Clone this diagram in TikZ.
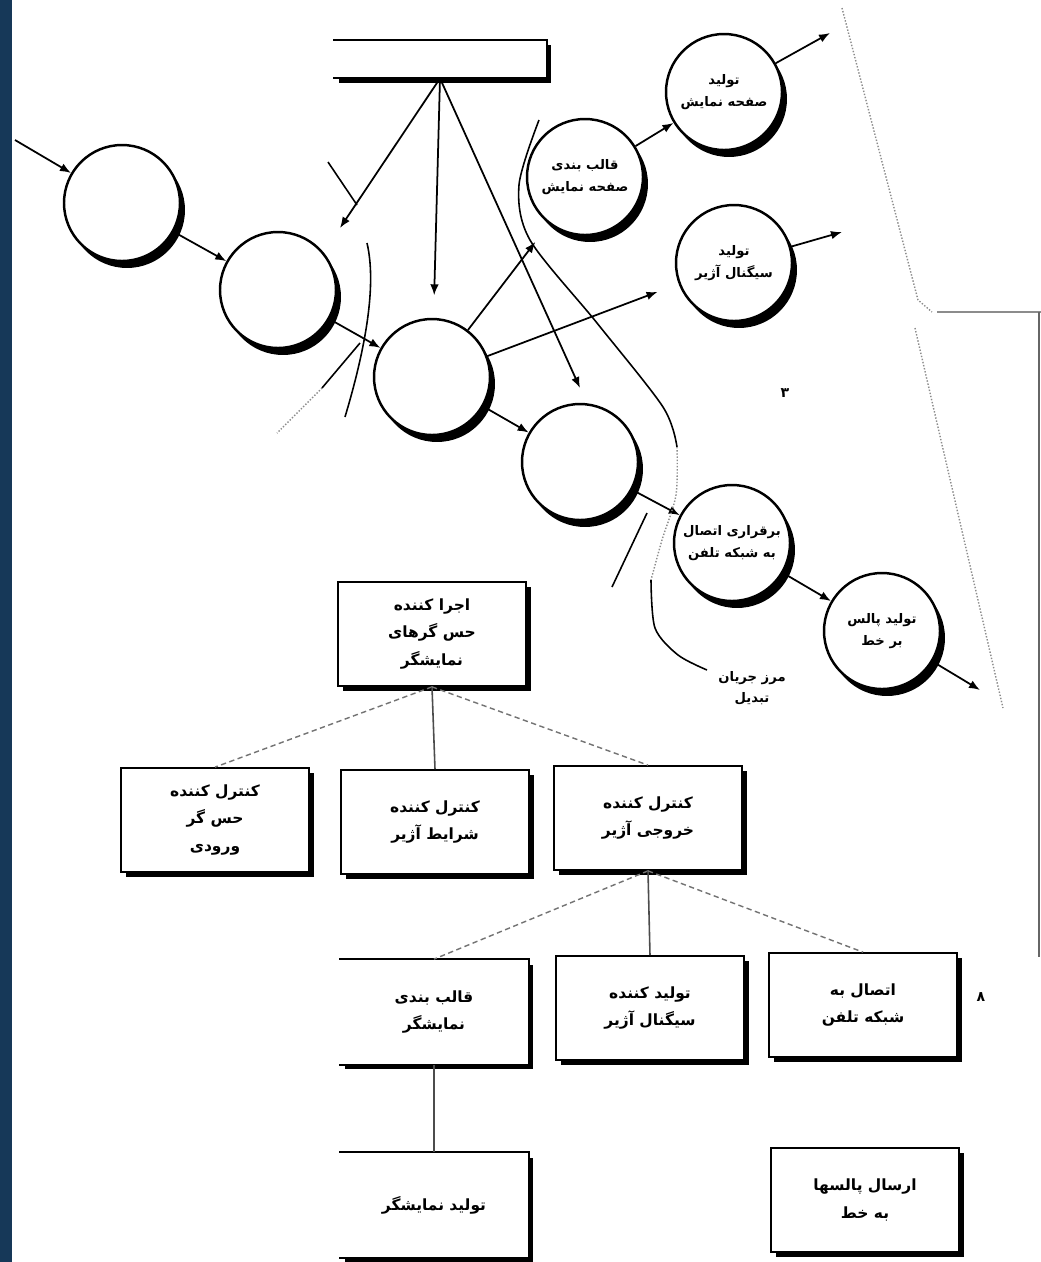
\documentclass[tikz,border=0pt]{standalone}
\usepackage{fontspec}
\usepackage{tikz}
\usetikzlibrary{arrows.meta,shadows}
\newfontfamily\farsi[Script=Arabic]{DejaVu Sans}
\TeXXeTstate=1
\definecolor{slide}{RGB}{22,56,88}
\newcommand{\fatext}[1]{\beginR #1\endR}
\tikzset{
  proc/.style={circle, draw, line width=1.4pt, fill=white, minimum size=2.32cm, inner sep=0pt,
    align=center, font=\farsi\bfseries\fontsize{7.5}{12.5}\selectfont,
    drop shadow={shadow xshift=0.1cm, shadow yshift=-0.14cm, fill=black, opacity=1}},
  module/.style={rectangle, draw, line width=1pt, fill=white, minimum width=3.76cm, minimum height=2.08cm,
    align=center, font=\farsi\bfseries\fontsize{8.8}{15.5}\selectfont,
    drop shadow={shadow xshift=0.1cm, shadow yshift=-0.1cm, fill=black, opacity=1}},
  openbox/.style={module, draw=none},
  storebox/.style={rectangle, fill=white, minimum width=4.26cm, minimum height=0.76cm,
    drop shadow={shadow xshift=0.1cm, shadow yshift=-0.1cm, fill=black, opacity=1}},
  note/.style={align=center, font=\farsi\bfseries\fontsize{7.5}{12}\selectfont},
  pgnum/.style={font=\farsi\bfseries\fontsize{8}{10}\selectfont, inner sep=0pt},
  flow/.style={->, line width=1pt},
  toward/.style={shorten >=0.45cm},
  bound/.style={line width=0.9pt},
  link/.style={line width=0.9pt, black!70},
  sidelink/.style={line width=0.8pt, black!55, densely dashed},
  pageline/.style={line width=0.8pt, black!45, densely dotted}
}

\begin{document}
\begin{tikzpicture}[x=0.02cm, y=-0.02cm, >={Latex[length=2.2mm,width=1.7mm]}]
\useasboundingbox (0,0) rectangle (1041,1262);
\fill[white] (0,0) rectangle (1041,1262);
\fill[slide] (0,0) rectangle (12,1262);

% data flow part
\node[storebox] (store) at (440,59) {};
\draw[line width=1pt] (store.north west) -- (store.north east) -- (store.south east) -- (store.south west);

\node[proc] (c1) at (122,203) {};
\node[proc] (c2) at (278,290) {};
\node[proc] (c3) at (432,377) {};
\node[proc] (c4) at (580,462) {};
\node[proc] (c5) at (585,177) {\fatext{قالب بندی}\\\fatext{صفحه نمایش}};
\node[proc] (c6) at (724,92) {\fatext{تولید}\\\fatext{صفحه نمایش}};
\node[proc] (c7) at (734,263) {\fatext{تولید}\\\fatext{سیگنال آژیر}};
\node[proc] (c8) at (732,543) {\fatext{برقراری اتصال}\\\fatext{به شبکه تلفن}};
\node[proc] (c9) at (882,631) {\fatext{تولید پالس}\\\fatext{بر خط}};

\coordinate (in1) at (15,140);
\coordinate (c2in) at (340,228);
\coordinate (c4in) at (580,388);
\coordinate (o6) at (830,33);
\coordinate (o7) at (842,232);
\coordinate (o9) at (980,690);

\draw[flow] (in1) -- (c1);
\draw[flow] (c1) -- (c2);
\draw[flow] (c2) -- (c3);
\draw[flow] (store.south) -- (c2in);
\draw[flow,toward] (store.south) -- (c3);
\draw[flow] (store.south) -- (c4in);
\draw[flow,toward] (c3) -- (c5);
\draw[flow,toward] (c3) -- (c7);
\draw[flow] (c3) -- (c4);
\draw[flow] (c4) -- (c8);
\draw[flow] (c5) -- (c6);
\draw[flow] (c6) -- (o6);
\draw[flow] (c7) -- (o7);
\draw[flow] (c8) -- (c9);
\draw[flow] (c9) -- (o9);

% boundaries
\draw[bound] (328,162) -- (357,205);
\draw[bound] (367,243) .. controls (378,290) and (362,360) .. (345,417);
\draw[bound] (360,343) -- (322,388);
\draw[pageline] (322,388) -- (277,433);
\draw[bound] plot[smooth, tension=0.5] coordinates {(539,120) (519,185) (530,240) (597,323) (663,407) (677,447)};
\draw[pageline] plot[smooth] coordinates {(677,447) (676,495) (662,540) (651,580)};
\draw[bound] plot[smooth] coordinates {(651,580) (655,628) (678,655) (707,670)};
\draw[bound] (612,587) -- (647,513);
\node[note] (edgename) at (752,688) {\fatext{مرز جریان}\\\fatext{تبدیل}};

% page edges
\draw[pageline] (842,8) -- (918,300) -- (932,312);
\draw[line width=0.8pt, black!45] (937,312) -- (1041,312);
\draw[line width=1pt, black!60] (1039,312) -- (1039,957);
\draw[pageline] (915,328) -- (1003,708);
\node[pgnum] (pg3) at (785,393) {۳};
\node[pgnum] (pg8) at (981,997) {۸};

% structure chart
\node[module] (root) at (432,634) {\fatext{اجرا کننده}\\\fatext{حس گرهای}\\\fatext{نمایشگر}};
\node[module] (inctl) at (215,820) {\fatext{کنترل کننده}\\\fatext{حس گر}\\\fatext{ورودی}};
\node[module] (alctl) at (435,822) {\fatext{کنترل کننده}\\\fatext{شرایط آژیر}};
\node[module] (outctl) at (648,818) {\fatext{کنترل کننده}\\\fatext{خروجی آژیر}};
\node[openbox] (fmt) at (434,1012) {\fatext{قالب بندی}\\\fatext{نمایشگر}};
\draw[line width=1pt] (fmt.north west) -- (fmt.north east) -- (fmt.south east) -- (fmt.south west);
\node[module] (sig) at (650,1008) {\fatext{تولید کننده}\\\fatext{سیگنال آژیر}};
\node[module] (tel) at (863,1005) {\fatext{اتصال به}\\\fatext{شبکه تلفن}};
\node[openbox] (disp) at (434,1205) {\fatext{تولید نمایشگر}};
\draw[line width=1pt] (disp.north west) -- (disp.north east) -- (disp.south east) -- (disp.south west);
\node[module] (pulse) at (865,1200) {\fatext{ارسال پالسها}\\\fatext{به خط}};

\draw[sidelink] (root.south) -- (inctl.north);
\draw[link] (root.south) -- (alctl.north);
\draw[sidelink] (root.south) -- (outctl.north);
\draw[sidelink] (outctl.south) -- (fmt.north);
\draw[link] (outctl.south) -- (sig.north);
\draw[sidelink] (outctl.south) -- (tel.north);
\draw[link] (fmt.south) -- (disp.north);
\end{tikzpicture}
\end{document}
